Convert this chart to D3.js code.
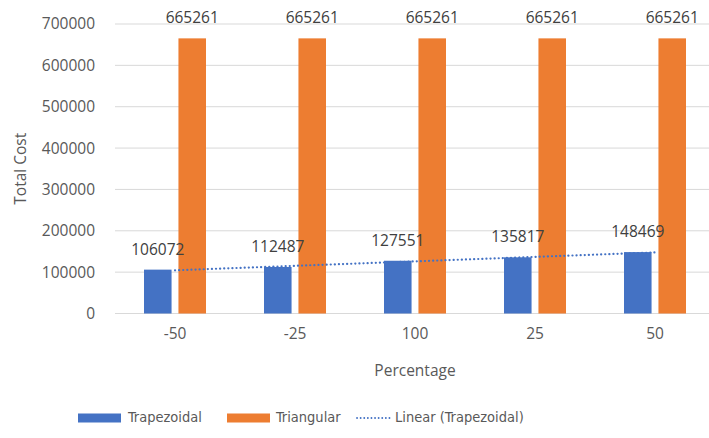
<!DOCTYPE html>
<html>
<head>
<meta charset="utf-8">
<script src="https://cdn.jsdelivr.net/npm/d3@7"></script>
<style>
  html, body { margin: 0; padding: 0; background: #fff; }
  svg { display: block; }
  text { font-family: "Open Sans", "Liberation Sans", sans-serif; }
</style>
</head>
<body>
<svg id="chart" width="709" height="438"></svg>
<script>
// Categories and series
const categories = ["-50", "-25", "100", "25", "50"];
const seriesNames = ["Trapezoidal", "Triangular"];
const trapezoidal = [106072, 112487, 127551, 135817, 148469];
const triangular = [665261, 665261, 665261, 665261, 665261];
const yTicks = [0, 100000, 200000, 300000, 400000, 500000, 600000, 700000];
const colors = { Trapezoidal: "#4472C4", Triangular: "#ED7D31" };

const svg = d3.select("#chart");
const plot = { left: 115, right: 715, top: 24, bottom: 313.5 };

const x0 = d3.scaleBand().domain(categories).range([plot.left, plot.right]);
const groupW = 62;
const x1 = d3.scaleBand().domain(seriesNames).range([0, groupW]).paddingInner(0.2);
const y = d3.scaleLinear().domain([0, 700000]).range([plot.bottom, plot.top]);

// Gridlines
svg.append("g")
  .selectAll("line")
  .data(yTicks)
  .join("line")
  .attr("x1", plot.left).attr("x2", plot.right)
  .attr("y1", d => y(d)).attr("y2", d => y(d))
  .attr("stroke", "#d9d9d9").attr("stroke-width", 1);

// Y axis labels
const yAxis = d3.axisLeft(y).tickValues(yTicks).tickFormat(d3.format("d")).tickSize(0).tickPadding(20);
const gy = svg.append("g").attr("transform", `translate(${plot.left},0)`).call(yAxis);
gy.select(".domain").remove();
gy.selectAll("text").attr("fill", "#595959").style("font-size", "15.5px").style("font-family", "'Open Sans', sans-serif");

// X axis labels
const xAxis = d3.axisBottom(x0).tickSize(0).tickPadding(14);
const gx = svg.append("g").attr("transform", `translate(0,${plot.bottom})`).call(xAxis);
gx.select(".domain").remove();
gx.selectAll("text").attr("fill", "#595959").style("font-size", "15.5px").style("font-family", "'Open Sans', sans-serif");

// Bars
const rows = categories.map((c, i) => ({
  cat: c,
  values: [
    { key: "Trapezoidal", value: trapezoidal[i] },
    { key: "Triangular", value: triangular[i] }
  ]
}));

const groups = svg.append("g").selectAll("g")
  .data(rows)
  .join("g")
  .attr("transform", d => `translate(${x0(d.cat) + x0.bandwidth() / 2 - groupW / 2},0)`);

groups.selectAll("rect")
  .data(d => d.values)
  .join("rect")
  .attr("x", d => x1(d.key))
  .attr("width", x1.bandwidth())
  .attr("y", d => y(d.value))
  .attr("height", d => y(0) - y(d.value))
  .attr("fill", d => colors[d.key]);

groups.selectAll("text.val")
  .data(d => d.values)
  .join("text")
  .attr("class", "val")
  .attr("x", d => x1(d.key) + x1.bandwidth() / 2)
  .attr("y", d => y(d.value) - 15)
  .attr("text-anchor", "middle")
  .attr("fill", "#404040")
  .style("font-size", "15.5px")
  .text(d => d.value);

// Linear trendline over the Trapezoidal series (least squares on category index)
const n = trapezoidal.length;
const xs = d3.range(1, n + 1);
const mx = d3.mean(xs), my = d3.mean(trapezoidal);
const slope = d3.sum(xs, (xi, i) => (xi - mx) * (trapezoidal[i] - my)) / d3.sum(xs, xi => (xi - mx) ** 2);
const intercept = my - slope * mx;
const trend = categories.map((c, i) => ({ cat: c, v: intercept + slope * xs[i] }));

svg.append("path")
  .datum(trend)
  .attr("fill", "none")
  .attr("stroke", "#4472C4")
  .attr("stroke-width", 2.2)
  .attr("stroke-dasharray", "0.1 4")
  .attr("stroke-linecap", "round")
  .attr("d", d3.line().x(d => x0(d.cat) + x0.bandwidth() / 2).y(d => y(d.v)));

// Axis titles
svg.append("text")
  .attr("transform", `translate(22,${(plot.top + plot.bottom) / 2}) rotate(-90)`)
  .attr("text-anchor", "middle")
  .attr("dominant-baseline", "middle")
  .attr("fill", "#595959")
  .style("font-size", "15.5px")
  .text("Total Cost");

svg.append("text")
  .attr("x", 415)
  .attr("y", 372)
  .attr("text-anchor", "middle")
  .attr("dominant-baseline", "middle")
  .attr("fill", "#595959")
  .style("font-size", "15.5px")
  .text("Percentage");

// Legend
const legendY = 418;
const legend = svg.append("g");
const legendItems = [
  { label: "Trapezoidal", type: "rect", color: colors.Trapezoidal, x: 78, tx: 128 },
  { label: "Triangular", type: "rect", color: colors.Triangular, x: 227, tx: 276 },
  { label: "Linear (Trapezoidal)", type: "dots", color: colors.Trapezoidal, x: 357, tx: 395 }
];
legendItems.forEach(it => {
  if (it.type === "rect") {
    legend.append("rect").attr("x", it.x).attr("y", legendY - 4.5).attr("width", 43).attr("height", 9).attr("fill", it.color);
  } else {
    legend.append("line").attr("x1", it.x).attr("x2", it.x + 35).attr("y1", legendY).attr("y2", legendY)
      .attr("stroke", it.color).attr("stroke-width", 1.8).attr("stroke-dasharray", "0.1 3.5").attr("stroke-linecap", "round");
  }
  legend.append("text").attr("x", it.tx).attr("y", legendY).attr("dominant-baseline", "middle")
    .attr("fill", "#595959").style("font-size", "14.5px").style("font-family", "'DejaVu Sans Condensed', 'Liberation Sans Narrow', 'Open Sans', sans-serif")
    .text(it.label);
});
</script>
</body>
</html>
